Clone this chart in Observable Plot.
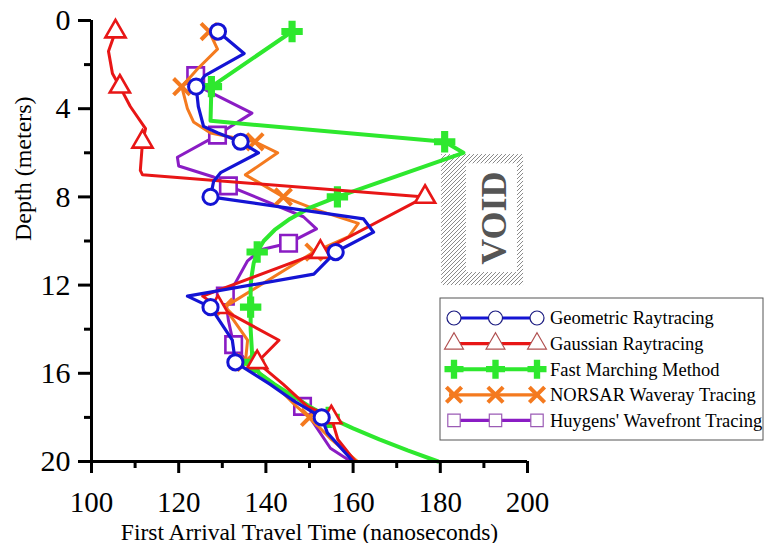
<!DOCTYPE html>
<html><head><meta charset="utf-8">
<script src="https://cdn.jsdelivr.net/npm/d3@7"></script>
<script src="https://cdn.jsdelivr.net/npm/@observablehq/plot@0.6"></script>
<style>
body{margin:0;background:#fff;}
#chart{position:relative;width:766px;height:543px;}
</style></head><body><div id="chart"></div>
<script>
// ---------- data ----------
const seriesNames = ["Geometric Raytracing","Gaussian Raytracing","Fast Marching Method","NORSAR Waveray Tracing","Huygens' Wavefront Tracing"];

const geoDepth = [0.5,1.5,2.5,3,3.9,4.8,5.1,5.5,6,6.9,7.3,8,9,9.6,10.5,11.5,12.5,13,14.5,15.5,16.5,17.2,18,18.7,20];
const geoTime  = [129,135,126,124,124.5,125.7,129,134.2,138.3,129.6,128,127.3,162.4,164.7,156,151,122,127.3,132.3,133,141,146,152.8,154.1,160];
const geoMarkDepths = [0.5,3,5.5,8,10.5,13,15.5,18];

const gaussDepth = [0.5,1.4,2.4,3,3.9,4.9,5.5,6.8,7.0,8.0,10.5,12.5,13,14.5,15.5,16.5,17.5,18,19,20];
const gaussTime  = [105.5,103.9,104.8,106.5,108.9,112.4,111.7,111.2,111.7,176.5,152.5,125.5,129,143,138,144,149.5,155,156.5,160.5];
const gaussMarkDepths = [0.5,3,5.5,8,10.5,13,15.5,18];

const fmmDepth = [0.5,3,4.55,5.5,6,8,8.5,9,9.5,10,10.5,11,11.5,12,13,14,15,15.5,16,16.5,17,17.5,18,18.5,19,19.5,20];
const fmmTime  = [146,127.5,127.3,181,185.3,156.4,150,145.5,142,139.5,138,137.2,136.8,136.5,136.5,136.5,136.8,137.2,138.5,142,146,150,154.5,160,166,172.5,179.5];
const fmmMarkDepths = [0.5,3,5.5,8,10.5,13,15.5,18];

const norsarDepth = [0.5,1.3,2.2,3,4,4.6,5.1,5.5,6,7,8,8.6,9.2,9.8,10.5,13,14.5,15.5,16.5,17.5,18,19,20];
const norsarTime  = [127,128.9,124.3,120.7,122,123.4,127.3,137.5,142.7,135.3,144,151.8,161.2,159,151,130.5,135.8,135.3,142,147,150,155,161];
const norsarMarkDepths = [0.5,3,5.5,8,10.5,13,15.5,18];

const huyDepth = [2.5,3.1,4.2,4.9,5.2,6.2,6.6,7.1,7.5,8.9,9.45,10.1,10.4,10.9,11.9,12.5,13.6,14.7,15.7,17.5,19.4,20];
const huyTime  = [123.9,125.7,136.8,131.2,128.9,119.7,120,128,131.4,148.6,151.6,145.2,138.8,135.8,133,130.7,131.4,132.6,136.5,148.4,154.8,159.5];
const huyMarkDepths = [2.5,5.2,7.5,10.1,12.5,14.7,17.5];

const xMajorTicks = [100,120,140,160,180,200];
const xMinorTicks = [110,130,150,170,190];
const yMajorTicks = [0,4,8,12,16,20];
const yMinorTicks = [2,6,10,14,18];

const voidTime = [180.3, 199.1];   // hatched outer box (ns)
const voidDepth = [6.08, 12.02];   // (m)
const voidInnerTime = [186, 197.7];
const voidInnerDepth = [6.5, 11.43];
const voidLabel = "VOID";

const xTitle = "First Arrival Travel Time (nanoseconds)";
const yTitle = "Depth (meters)";

// ---------- styles ----------
const FONT = "'Liberation Serif','Times New Roman',serif";
const styles = [
  {color:"#1414d4", symbol:"circle",   r:7.6, sw:3,   fill:"white", lw:3.2, legendStroke:"#1a1a80", legendSW:1.2},
  {color:"#e81616", symbol:"triangle", r:7.5, sw:2.6, fill:"white", lw:3,   legendStroke:"#b05050", legendSW:1.2},
  {color:"#2ee82e", symbol:"cross",    r:9,   sw:0,   fill:"#2ee82e", lw:4, legendStroke:"none", legendSW:0},
  {color:"#f47a1f", symbol:"times",    r:7.5, sw:4,   fill:"none", lw:3,   legendStroke:"#f47a1f", legendSW:4},
  {color:"#8a1cc4", symbol:"square",   r:9.3, sw:2.6, fill:"white", lw:3,   legendStroke:"#9b5bb5", legendSW:1.2}
];
const seriesData = [
  [geoDepth, geoTime, geoMarkDepths],
  [gaussDepth, gaussTime, gaussMarkDepths],
  [fmmDepth, fmmTime, fmmMarkDepths],
  [norsarDepth, norsarTime, norsarMarkDepths],
  [huyDepth, huyTime, huyMarkDepths]
];
const rows = seriesData.map(([dep, tim, mk], k) =>
  dep.map((d, i) => ({series: seriesNames[k], depth: d, time: tim[i], marker: mk.includes(d)})));

const drawOrder = [4,3,2,1,0];
const seriesMarks = drawOrder.flatMap(k => {
  const st = styles[k];
  const data = rows[k];
  return [
    Plot.line(data, {x:"time", y:"depth", stroke: st.color, strokeWidth: st.lw, strokeLinejoin:"round", strokeLinecap:"round"}),
    Plot.dot(data.filter(d => d.marker), {x:"time", y:"depth", symbol: st.symbol, r: st.r,
      fill: st.fill, stroke: st.symbol === "cross" ? "none" : st.color, strokeWidth: st.sw})
  ];
});

const plot = Plot.plot({
  width: 766, height: 543,
  marginLeft: 91, marginRight: 239, marginTop: 20, marginBottom: 82,
  x: {domain: [100, 200]},
  y: {domain: [0, 20], reverse: true},
  style: {fontFamily: FONT, color: "#000", background: "#fff", overflow: "visible"},
  marks: [
    Plot.rect([{a: voidTime[0], b: voidTime[1], c: voidDepth[0], d: voidDepth[1]}],
      {x1:"a", x2:"b", y1:"c", y2:"d", fill:"url(#voidHatch)"}),
    Plot.rect([{a: voidInnerTime[0], b: voidInnerTime[1], c: voidInnerDepth[0], d: voidInnerDepth[1]}],
      {x1:"a", x2:"b", y1:"c", y2:"d", fill:"white"}),
    Plot.text([voidLabel], {x: () => (voidInnerTime[0] + voidInnerTime[1]) / 2 + 0.6, y: () => (voidInnerDepth[0] + voidInnerDepth[1]) / 2,
      text: d => d, rotate: -90, fontSize: 36, fontWeight: "bold", fill: "#555555", fontFamily: FONT}),
    ...seriesMarks,
    Plot.axisX(xMajorTicks, {anchor:"bottom", tickSize: 12, tickPadding: 18, fontSize: 29, strokeWidth: 3, label: null, tickFormat: d => String(d)}),
    Plot.axisX(xMinorTicks, {anchor:"bottom", tickSize: 7, strokeWidth: 3, label: null, tickFormat: () => ""}),
    Plot.axisY(yMajorTicks, {anchor:"left", tickSize: 13, tickPadding: 8, fontSize: 30, strokeWidth: 3, label: null, tickFormat: d => String(d)}),
    Plot.axisY(yMinorTicks, {anchor:"left", tickSize: 7, strokeWidth: 3, label: null, tickFormat: () => ""}),
    Plot.ruleX([100], {strokeWidth: 3}),
    Plot.ruleY([20], {strokeWidth: 3}),
    Plot.text([xTitle], {frameAnchor: "bottom", dy: 78, lineAnchor: "bottom", fontSize: 23.5, fontFamily: FONT, text: d => d}),
    Plot.text([yTitle], {frameAnchor: "left", dx: -68, rotate: -90, fontSize: 24, fontFamily: FONT, text: d => d})
  ]
});
document.getElementById("chart").appendChild(plot);

// hatch pattern
const svg = d3.select(plot);
const defs = svg.insert("defs", ":first-child");
const pat = defs.append("pattern").attr("id", "voidHatch").attr("patternUnits", "userSpaceOnUse")
  .attr("width", 4).attr("height", 4);
pat.append("rect").attr("width", 4).attr("height", 4).attr("fill", "white");
pat.append("path").attr("d", "M-1,1 l2,-2 M0,4 l4,-4 M3,5 l2,-2").attr("stroke", "#8a8a8a").attr("stroke-width", 1);

// legend
const lg = svg.append("g").attr("class", "legend").attr("text-anchor", "start");
const box = {x: 440, y: 298, w: 323, h: 142};
lg.append("rect").attr("x", box.x).attr("y", box.y).attr("width", box.w).attr("height", box.h)
  .attr("fill", "white").attr("stroke", "#555").attr("stroke-width", 1);
const symMap = {circle: d3.symbolCircle, triangle: d3.symbolTriangle, cross: d3.symbolCross, times: d3.symbolTimes, square: d3.symbolSquare};
seriesNames.forEach((name, k) => {
  const st = styles[k];
  const y = 318 + k * 25.6;
  const g = lg.append("g");
  g.append("line").attr("x1", 449).attr("x2", 540).attr("y1", y).attr("y2", y)
    .attr("stroke", st.color).attr("stroke-width", st.symbol === "cross" ? 4 : 3.2);
  [454, 495.5, 537].forEach(cx => {
    const sz = st.symbol === "cross" ? Math.PI * 8 * 8 : Math.PI * 7 * 7;
    g.append("path").attr("transform", `translate(${cx},${y})`)
      .attr("d", d3.symbol(symMap[st.symbol], sz)())
      .attr("fill", st.symbol === "cross" ? st.color : (st.symbol === "times" ? "none" : "white"))
      .attr("stroke", st.symbol === "cross" ? "none" : st.legendStroke)
      .attr("stroke-width", st.legendSW);
  });
  g.append("text").attr("x", 550).attr("y", y).attr("dy", "0.35em").attr("text-anchor", "start")
    .attr("font-family", FONT).attr("font-size", 18.5).attr("fill", "#000").text(name);
});
</script></body></html>
